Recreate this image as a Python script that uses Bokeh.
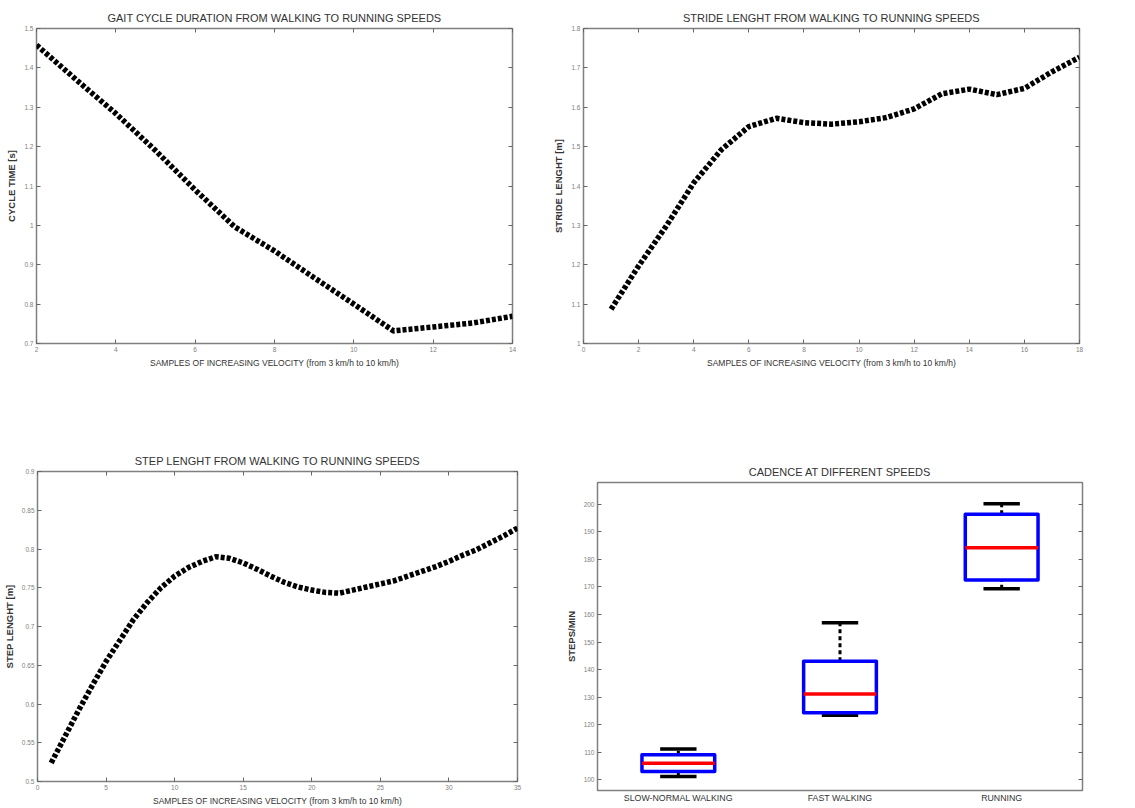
from bokeh.plotting import figure
from bokeh.layouts import column, row
from bokeh.models import LinearAxis, FixedTicker, Range1d, Spacer
from bokeh.embed import file_html
from bokeh.resources import INLINE

# ---------------- data ----------------
cycle_x = [2, 3, 4, 5, 6, 7, 8, 9, 10, 11, 12, 13, 14]
cycle_t = [1.458, 1.37, 1.284, 1.19, 1.09, 0.996, 0.935, 0.867, 0.80, 0.732, 0.742, 0.752, 0.769]

stride_x = list(range(1, 19))
stride_l = [1.087, 1.197, 1.298, 1.408, 1.492, 1.551, 1.572, 1.561, 1.557, 1.563,
            1.574, 1.596, 1.634, 1.646, 1.632, 1.648, 1.690, 1.727]

step_x = list(range(1, 36))
step_l = [0.524, 0.558, 0.592, 0.624, 0.655, 0.682, 0.709, 0.731, 0.750, 0.765,
          0.776, 0.784, 0.790, 0.788, 0.782, 0.774, 0.765, 0.757, 0.751, 0.747,
          0.744, 0.743, 0.747, 0.751, 0.755, 0.759, 0.765, 0.771, 0.777, 0.784,
          0.792, 0.799, 0.808, 0.817, 0.827]

cad_cats = ["SLOW-NORMAL WALKING", "FAST WALKING", "RUNNING"]
cad_low = [101.2, 123.4, 169.3]
cad_q1 = [103.0, 124.3, 172.5]
cad_med = [106.0, 131.1, 184.2]
cad_q3 = [109.1, 143.0, 196.4]
cad_high = [111.2, 157.0, 200.2]

SANS = "Liberation Sans"
XL = "SAMPLES OF INCREASING VELOCITY (from 3 km/h to 10 km/h)"


def tickstyle(ax):
    ax.major_tick_in = 4
    ax.major_tick_out = 0
    ax.minor_tick_line_color = None
    ax.major_tick_line_color = "#666666"
    ax.major_tick_line_width = 1
    ax.axis_line_color = None


def mk(title, w, h, bl, br, bt, bb, xr, yr, xlabel, ylabel, xticks, yticks, top_axis=True):
    p = figure(width=w, height=h, output_backend="svg", toolbar_location=None,
               title=title, x_range=xr, y_range=yr,
               min_border_left=bl, min_border_right=br,
               min_border_top=bt, min_border_bottom=bb)
    p.title.text_font = SANS
    p.title.text_font_size = "11px"
    p.title.text_font_style = "normal"
    p.title.text_color = "#333333"
    p.title.align = "center"
    p.outline_line_color = "#808080"
    p.outline_line_width = 1.5
    p.grid.visible = False

    xb = p.xaxis[0]
    yl = p.yaxis[0]
    for ax, ticks in ((xb, xticks), (yl, yticks)):
        tickstyle(ax)
        ax.ticker = FixedTicker(ticks=ticks)
        ax.major_label_text_font = SANS
        ax.major_label_text_font_size = "6.5px"
        ax.major_label_text_color = "#808080"
        ax.major_label_standoff = 3
    if xlabel:
        xb.axis_label = xlabel
    xb.axis_label_text_font = SANS
    xb.axis_label_text_font_size = "8.5px"
    xb.axis_label_text_font_style = "normal"
    xb.axis_label_text_color = "#333333"
    xb.axis_label_standoff = 3
    yl.axis_label = ylabel
    yl.axis_label_text_font = SANS
    yl.axis_label_text_font_size = "9.5px"
    yl.axis_label_text_font_style = "bold"
    yl.axis_label_text_color = "#333333"
    yl.axis_label_standoff = 4

    extra = [("right", yticks)]
    if top_axis:
        extra.append(("above", xticks))
    for side, ticks in extra:
        ax = LinearAxis(ticker=FixedTicker(ticks=ticks), major_label_text_color=None,
                        major_label_text_font_size="1px", major_label_standoff=0)
        tickstyle(ax)
        p.add_layout(ax, side)
    return p, xb, yl


LINE = dict(line_color="black", line_width=5.5, line_dash="4 2")

p1, _, _ = mk("GAIT CYCLE DURATION FROM WALKING TO RUNNING SPEEDS", 550, 400, 36, 38, 28, 57,
              Range1d(2, 14), Range1d(0.7, 1.5), XL, "CYCLE TIME [s]",
              [2, 4, 6, 8, 10, 12, 14], [0.7, 0.8, 0.9, 1.0, 1.1, 1.2, 1.3, 1.4, 1.5])
p1.line(cycle_x, cycle_t, **LINE)

p2, _, _ = mk("STRIDE LENGHT FROM WALKING TO RUNNING SPEEDS", 580, 400, 33, 51, 28, 56,
              Range1d(0, 18), Range1d(1.0, 1.8), XL, "STRIDE LENGHT [m]",
              list(range(0, 19, 2)), [1.0, 1.1, 1.2, 1.3, 1.4, 1.5, 1.6, 1.7, 1.8])
p2.line(stride_x, stride_l, **LINE)

p3, _, _ = mk("STEP LENGHT FROM WALKING TO RUNNING SPEEDS", 550, 408, 35, 33, 71, 26,
              Range1d(0, 35), Range1d(0.5, 0.9), XL, "STEP LENGHT [m]",
              list(range(0, 36, 5)), [0.5, 0.55, 0.6, 0.65, 0.7, 0.75, 0.8, 0.85, 0.9])
p3.line(step_x, step_l, **LINE)

pos = [i + 1 for i in range(len(cad_cats))]
p4, xb4, _ = mk("CADENCE AT DIFFERENT SPEEDS", 580, 395, 47, 48, 71, 16,
                Range1d(0.5, 3.5), Range1d(96.1, 207.9), None, "STEPS/MIN",
                pos, list(range(100, 201, 10)), top_axis=False)
xb4.major_label_overrides = {pp: c for pp, c in zip(pos, cad_cats)}
xb4.major_label_text_font_size = "8.8px"
xb4.major_label_text_color = "#333333"
xb4.major_tick_line_color = None
xb4.major_label_standoff = 2

bw = 0.45
cw = 0.225
# whiskers
p4.segment(x0=pos, y0=cad_q3, x1=pos, y1=cad_high, line_color="black", line_width=3, line_dash="4 3")
p4.segment(x0=pos, y0=cad_low, x1=pos, y1=cad_q1, line_color="black", line_width=3, line_dash="4 3")
# caps
p4.segment(x0=[x - cw / 2 for x in pos], y0=cad_high, x1=[x + cw / 2 for x in pos], y1=cad_high,
           line_color="black", line_width=3.5)
p4.segment(x0=[x - cw / 2 for x in pos], y0=cad_low, x1=[x + cw / 2 for x in pos], y1=cad_low,
           line_color="black", line_width=3.5)
# boxes
p4.vbar(x=pos, width=bw, bottom=cad_q1, top=cad_q3, fill_color=None,
        line_color="#0000ff", line_width=3.5, line_join="round")
# medians
p4.segment(x0=[x - bw / 2 for x in pos], y0=cad_med, x1=[x + bw / 2 for x in pos], y1=cad_med,
           line_color="#ff0000", line_width=3.5)

layout = column(row(p1, p2), row(p3, column(Spacer(width=580, height=11), p4)))
open("out.html", "w").write(file_html(layout, INLINE))
